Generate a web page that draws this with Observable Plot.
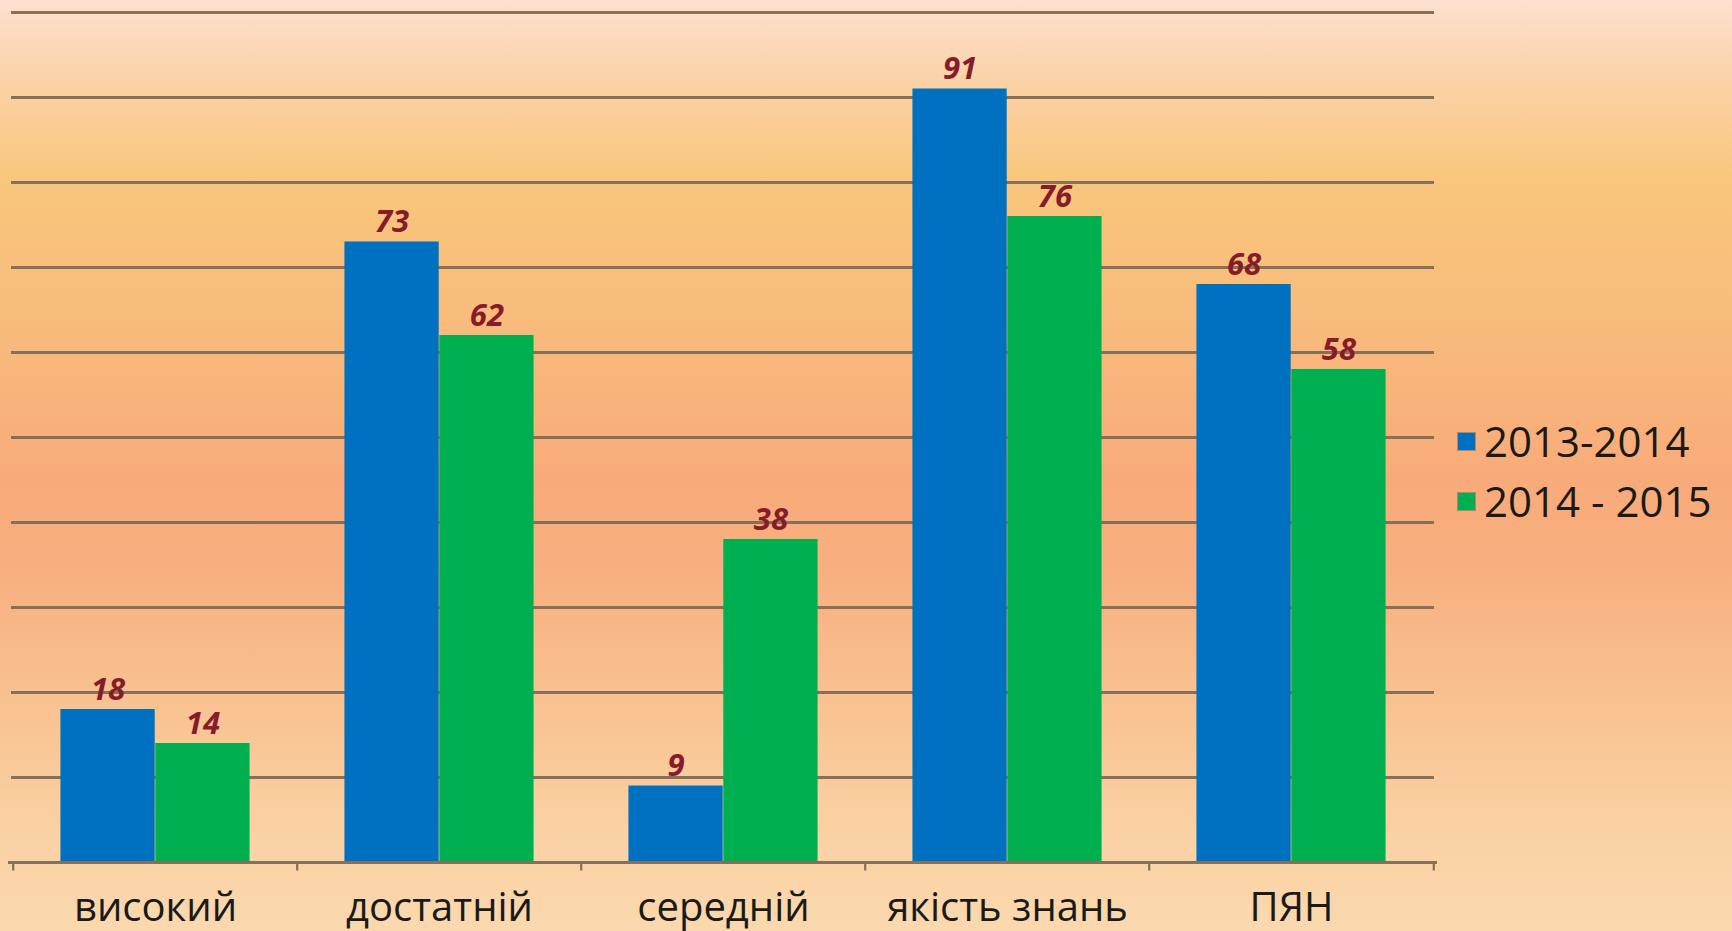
<!DOCTYPE html>
<html>
<head>
<meta charset="utf-8">
<script src="https://cdn.jsdelivr.net/npm/d3@7"></script>
<script src="https://cdn.jsdelivr.net/npm/@observablehq/plot@0.6"></script>
<style>
  html, body { margin: 0; padding: 0; }
  body {
    width: 1732px; height: 931px; overflow: hidden; position: relative;
    background: linear-gradient(to bottom,
      #fde0d0 0%, #fbd3ab 8%, #f9c67c 19%, #f8bb7c 35%, #f8aa7a 52%,
      #f8b080 62%, #f9c190 75%, #fad0a2 88%, #fbd8ae 100%);
    font-family: "Open Sans", sans-serif;
  }
  #chart { position: absolute; left: 0; top: 0; }
  #legend { position: absolute; left: 1458px; top: 411px; }
  .item { display: flex; align-items: center; height: 60px; }
  .sw { width: 17px; height: 17px; margin-right: 9px; box-shadow: 0 0 0 1px rgba(60,60,60,0.35); }
  .lab { font-size: 42px; color: #1a1a1a; line-height: 1; }
</style>
</head>
<body>
<div id="chart"></div>
<div id="legend"></div>
<script>
const categories = ["високий", "достатній", "середній", "якість знань", "ПЯН"];
const seriesNames = ["2013-2014", "2014 - 2015"];
const values2013 = [18, 73, 9, 91, 68];
const values2014 = [14, 62, 38, 76, 58];
const yTicks = [10, 20, 30, 40, 50, 60, 70, 80, 90, 100];
const colors = ["#0070c0", "#00b050"];

const width = 1732, height = 931;
const mL = 11, mR = 298, mT = 12, mB = 69;
const bw = (width - mL - mR) / categories.length;
const outer = bw / 6;
const barW = (bw - 2 * outer) / 2;

const rowsA = categories.map((c, i) => ({category: c, value: values2013[i]}));
const rowsB = categories.map((c, i) => ({category: c, value: values2014[i]}));

const gridColor = "#86705a";
const labelStyle = {
  fill: "#861c2a", fontSize: 31, fontWeight: "bold", fontStyle: "italic",
  fontFamily: "Open Sans", lineAnchor: "bottom"
};

const chart = Plot.plot({
  width, height,
  marginLeft: mL, marginRight: mR, marginTop: mT, marginBottom: mB,
  style: {background: "transparent", fontFamily: "Open Sans", overflow: "visible"},
  x: {domain: categories, padding: 0, axis: null},
  y: {domain: [0, 100], axis: null},
  marks: [
    Plot.ruleY(yTicks, {stroke: gridColor, strokeWidth: 3}),
    Plot.barY(rowsA, {x: "category", y: "value", fill: colors[0], insetLeft: outer, insetRight: outer + barW}),
    Plot.barY(rowsB, {x: "category", y: "value", fill: colors[1], insetLeft: outer + barW, insetRight: outer}),
    Plot.ruleY([0], {stroke: gridColor, strokeWidth: 3, insetLeft: -3, insetRight: -3}),
    Plot.ruleX(categories, {x: d => d, dx: -bw / 2, y1: 0, y2: -1, stroke: gridColor, strokeWidth: 2.2}),
    Plot.ruleX(categories.slice(-1), {x: d => d, dx: bw / 2, y1: 0, y2: -1, stroke: gridColor, strokeWidth: 2.2}),
    Plot.text(rowsA, {x: "category", y: "value", text: d => String(d.value), dx: -barW / 2, dy: -10, ...labelStyle}),
    Plot.text(rowsB, {x: "category", y: "value", text: d => String(d.value), dx: barW / 2, dy: -10, ...labelStyle}),
    Plot.axisX({domain: categories, label: null, tickSize: 0, tickPadding: 30, fontSize: 40, fill: "#1a1a1a", fontFamily: "Open Sans"})
  ]
});
document.getElementById("chart").appendChild(chart);

const legend = document.getElementById("legend");
seriesNames.forEach((s, i) => {
  const item = document.createElement("div");
  item.className = "item";
  item.innerHTML = `<div class="sw" style="background:${colors[i]}"></div><div class="lab">${s}</div>`;
  legend.appendChild(item);
});
</script>
</body>
</html>
